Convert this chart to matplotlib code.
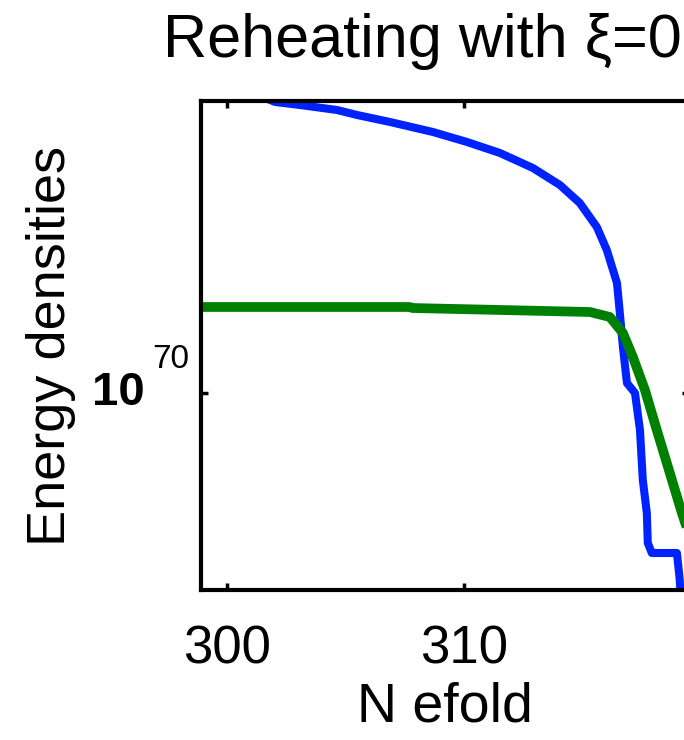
import numpy as np
import matplotlib
matplotlib.use("Agg")
import matplotlib.pyplot as plt
import matplotlib.transforms as mtransforms

# ── Data (y values are log10 of the energy density) ──
n_rad = [301.39, 302.03, 303.08, 304.64, 305.49, 306.88, 308.69, 310.13,
         311.52, 312.91, 314.05, 314.89, 315.61, 316.03, 316.46, 316.58,
         316.71, 316.88, 317.22, 317.43, 317.55, 317.72, 317.76, 317.93,
         318.99, 319.11, 319.16]
log_rad = [77.425, 77.275, 77.2, 77.075, 76.95, 76.775, 76.525, 76.275,
           76.0, 75.625, 75.2, 74.75, 74.15, 73.575, 72.75, 72.0,
           71.15, 70.25, 70.0, 69.075, 67.825, 67.0, 66.25, 66.0,
           66.0, 65.325, 64.8]

n_phi = [298.90, 307.72, 307.81, 315.32, 316.16, 316.71, 317.13, 317.64,
         318.14, 318.69, 319.20, 319.62]
log_phi = [72.15, 72.15, 72.125, 72.025, 71.90, 71.50, 70.90, 70.075,
           69.075, 68.0, 67.0, 66.25]

x_ticks = [300, 310]
x_lim = (298.9, 319.5)
y_lim_exp = (65.075, 77.3)
y_tick_exp = 70

FONT = "Liberation Sans"
plt.rcParams["font.family"] = [FONT, "DejaVu Sans"]

fig = plt.figure(figsize=(6.84, 7.40), dpi=100)
# axes deliberately runs past the right edge: the reference is a crop
ax = fig.add_axes([201 / 684, 150 / 740, 488 / 684, 489 / 740])

ax.plot(n_rad, 10.0 ** np.array(log_rad), color="#0022ff", lw=5.8)
ax.plot(n_phi, 10.0 ** np.array(log_phi), color="#008000", lw=7.0)

ax.set_yscale("log")
ax.set_xlim(*x_lim)
ax.set_ylim(10.0 ** y_lim_exp[0], 10.0 ** y_lim_exp[1])
ax.set_xticks(x_ticks)
ax.set_xticklabels([str(t) for t in x_ticks], fontsize=38)
ax.set_yticks([10.0 ** y_tick_exp])
ax.set_yticklabels([""])
ax.minorticks_off()
ax.tick_params(direction="in", length=5, width=2.5, top=True, right=True,
               pad=25)
for s in ax.spines.values():
    s.set_linewidth(3)

# y tick label drawn as "10" with a separate superscript, like the original
tr = mtransforms.blended_transform_factory(ax.transAxes, ax.transData)
ax.text(-0.115, 10.0 ** y_tick_exp, "10", transform=tr, fontsize=34,
        fontweight="bold", ha="right", va="center")
ax.text(-0.025, 10.0 ** (y_tick_exp + 0.85), str(y_tick_exp), transform=tr,
        fontsize=24, ha="right", va="center")

ax.set_xlabel("N efold", fontsize=40, labelpad=5)
ax.set_ylabel("Energy densities", fontsize=39, labelpad=65)
fig.text(163 / 684, 1 - 57 / 740, "Reheating with ξ=0", fontsize=44,
         ha="left", va="baseline")

fig.savefig("out.png", dpi=100)
